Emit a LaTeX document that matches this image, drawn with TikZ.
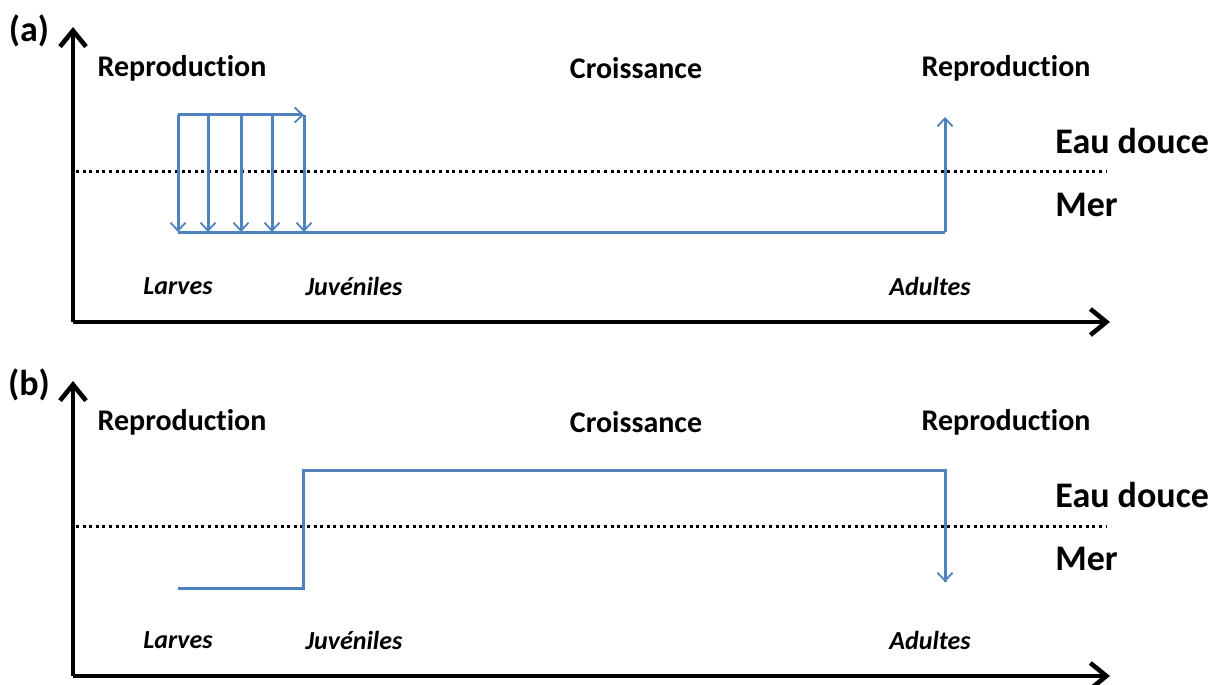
\documentclass[tikz,border=0pt]{standalone}
\usepackage{fontspec}
\setmainfont[Ligatures=NoCommon]{Carlito}
\usetikzlibrary{arrows.meta}
\definecolor{flow}{RGB}{79,129,189}
\tikzset{
  axis/.style={line width=2.3pt, -{Straight Barb[length=8pt, width=13pt, line width=2.3pt]}},
  sealine/.style={line width=1.5pt, line cap=butt, dash pattern=on 1.5pt off 1.8pt},
  path/.style={draw=flow, line width=1.5pt, line join=miter},
  move/.style={path, -{Straight Barb[length=4pt, width=7.5pt, line width=0.9pt]}},
  phase/.style={font=\bfseries\fontsize{15}{18}\selectfont, inner sep=0pt},
  medium/.style={font=\bfseries\fontsize{18}{21}\selectfont, inner sep=0pt, anchor=west},
  stage/.style={font=\bfseries\itshape\fontsize{13}{16}\selectfont, inner sep=0pt},
  tag/.style={font=\bfseries\fontsize{18}{21}\selectfont, inner sep=0pt},
}
\begin{document}
\begin{tikzpicture}[x=0.5pt, y=-0.5pt]
\useasboundingbox (0,0) rectangle (1218,684);

% ---------- panel (a): larvae drift to sea, adults return upstream ----------
\begin{scope}
  \node[tag] (la) at (29,31) {(a)};
  \coordinate (oa) at (73,322);
  \coordinate (ya) at (73,27);
  \coordinate (xa) at (1110,322);
  \draw[sealine] (76,172) -- (1106,172);
  \draw[axis] (oa) -- (ya);
  \draw[axis] (oa) -- (xa);

  \node[phase] (ra1) at (182,68) {Reproduction};
  \node[phase] (ca) at (636,68) {Croissance};
  \node[phase] (ra2) at (1006,68) {Reproduction};
  \node[medium] (eda) at (1055,141) {Eau douce};
  \node[medium] (mea) at (1055,205) {Mer};
  \node[stage] (lva) at (178,286) {Larves};
  \node[stage] (jua) at (354,286) {Juvéniles};
  \node[stage] (ada) at (930,286) {Adultes};

  \coordinate (t0) at (178,115);
  \coordinate (t4) at (304,115);
  \foreach \i/\x in {0/178,1/208,2/241,3/272,4/304}{
    \coordinate (top\i) at (\x,115);
    \coordinate (bot\i) at (\x,232);
  }
  \draw[move] (t0) -- (t4);
  \foreach \i in {0,...,4}{\draw[move] (top\i) -- (bot\i);}
  \coordinate (adb) at (945,232);
  \coordinate (adt) at (945,117);
  \draw[path] (bot0) -- (adb);
  \draw[move] (adb) -- (adt);
\end{scope}

% ---------- panel (b): juveniles move upstream, adults go to sea ----------
\begin{scope}[yshift=-177pt]
  \node[tag] (lb) at (29,31) {(b)};
  \coordinate (ob) at (73,322);
  \coordinate (yb) at (73,27);
  \coordinate (xb) at (1110,322);
  \draw[sealine] (76,172) -- (1106,172);
  \draw[axis] (ob) -- (yb);
  \draw[axis] (ob) -- (xb);

  \node[phase] (rb1) at (182,68) {Reproduction};
  \node[phase] (cb) at (636,68) {Croissance};
  \node[phase] (rb2) at (1006,68) {Reproduction};
  \node[medium] (edb) at (1055,141) {Eau douce};
  \node[medium] (meb) at (1055,205) {Mer};
  \node[stage] (lvb) at (178,286) {Larves};
  \node[stage] (jub) at (354,286) {Juvéniles};
  \node[stage] (adb2) at (930,286) {Adultes};

  \coordinate (ls) at (178,234);
  \coordinate (jl) at (303,234);
  \coordinate (jh) at (303,116);
  \coordinate (ah) at (945,116);
  \coordinate (ae) at (945,228);
  \draw[path] (ls) -- (jl) -- (jh) -- (ah) -- (ae);
  \draw[move] (ah) -- (ae);
\end{scope}
\end{tikzpicture}
\end{document}
